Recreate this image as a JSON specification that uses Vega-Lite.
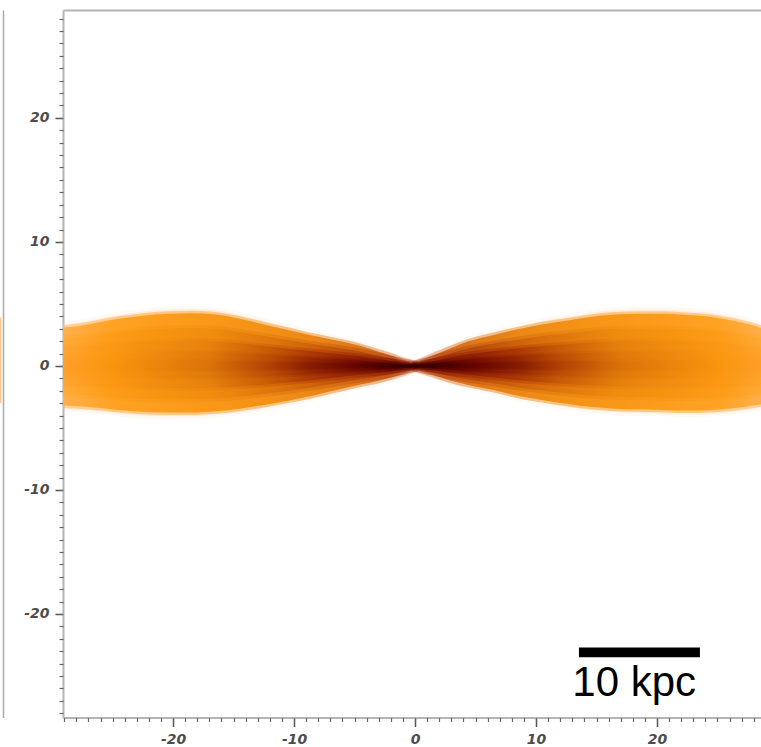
{
  "$schema": "https://vega.github.io/schema/vega-lite/v6.json",
  "background": "white",
  "padding": {"left": 0, "top": 10, "right": 0, "bottom": 0},
  "config": {"view": {"stroke": null}},
  "spacing": 20,
  "datasets": {
    "neighbour": [{"x": 0, "x2": 1.3, "y": -3.0, "y2": 3.9}],
    "scalebar": [{"x": 13.55, "x2": 23.55, "top": -22.7, "bottom": -23.5}],
    "caption": [{"x": 13.0, "top": -26.65, "label": "10 kpc"}],
    "disk": [
      {"band":"LH","x":0,"top":0.27,"bottom":-0.33},{"band":"LH","x":-1,"top":0.55,"bottom":-0.71},{"band":"LH","x":-2,"top":0.92,"bottom":-1.03},{"band":"LH","x":-3,"top":1.24,"bottom":-1.3},{"band":"LH","x":-4.5,"top":1.73,"bottom":-1.62},{"band":"LH","x":-6.5,"top":2.21,"bottom":-2.1},{"band":"LH","x":-8.5,"top":2.65,"bottom":-2.6},{"band":"LH","x":-10.5,"top":3.13,"bottom":-3.02},{"band":"LH","x":-12.5,"top":3.62,"bottom":-3.4},{"band":"LH","x":-14.5,"top":4.1,"bottom":-3.73},{"band":"LH","x":-16.5,"top":4.48,"bottom":-3.94},{"band":"LH","x":-18.5,"top":4.59,"bottom":-4.05},{"band":"LH","x":-20.5,"top":4.54,"bottom":-4.05},{"band":"LH","x":-22.5,"top":4.37,"bottom":-4.0},{"band":"LH","x":-24.5,"top":4.1,"bottom":-3.83},{"band":"LH","x":-26.5,"top":3.73,"bottom":-3.62},{"band":"LH","x":-28,"top":3.46,"bottom":-3.51},{"band":"LH","x":-29.1,"top":3.35,"bottom":-3.46},
      {"band":"L1","x":0,"top":0.25,"bottom":-0.3},{"band":"L1","x":-1,"top":0.5,"bottom":-0.65},{"band":"L1","x":-2,"top":0.85,"bottom":-0.95},{"band":"L1","x":-3,"top":1.15,"bottom":-1.2},{"band":"L1","x":-4.5,"top":1.6,"bottom":-1.5},{"band":"L1","x":-6.5,"top":2.05,"bottom":-1.95},{"band":"L1","x":-8.5,"top":2.45,"bottom":-2.4},{"band":"L1","x":-10.5,"top":2.9,"bottom":-2.8},{"band":"L1","x":-12.5,"top":3.35,"bottom":-3.15},{"band":"L1","x":-14.5,"top":3.8,"bottom":-3.45},{"band":"L1","x":-16.5,"top":4.15,"bottom":-3.65},{"band":"L1","x":-18.5,"top":4.25,"bottom":-3.75},{"band":"L1","x":-20.5,"top":4.2,"bottom":-3.75},{"band":"L1","x":-22.5,"top":4.05,"bottom":-3.7},{"band":"L1","x":-24.5,"top":3.8,"bottom":-3.55},{"band":"L1","x":-26.5,"top":3.45,"bottom":-3.35},{"band":"L1","x":-28,"top":3.2,"bottom":-3.25},{"band":"L1","x":-29.1,"top":3.1,"bottom":-3.2},
      {"band":"L2","x":0,"top":0.18,"bottom":-0.22},{"band":"L2","x":-1,"top":0.36,"bottom":-0.47},{"band":"L2","x":-2,"top":0.61,"bottom":-0.68},{"band":"L2","x":-3,"top":0.83,"bottom":-0.86},{"band":"L2","x":-4.5,"top":1.15,"bottom":-1.08},{"band":"L2","x":-6.5,"top":1.48,"bottom":-1.4},{"band":"L2","x":-8.5,"top":1.76,"bottom":-1.73},{"band":"L2","x":-10.5,"top":2.09,"bottom":-2.02},{"band":"L2","x":-12.5,"top":2.41,"bottom":-2.27},{"band":"L2","x":-14.5,"top":2.74,"bottom":-2.48},{"band":"L2","x":-16.5,"top":2.99,"bottom":-2.63},{"band":"L2","x":-18.5,"top":3.06,"bottom":-2.7},{"band":"L2","x":-20.5,"top":3.02,"bottom":-2.7},{"band":"L2","x":-22.5,"top":2.92,"bottom":-2.66},{"band":"L2","x":-24.5,"top":2.74,"bottom":-2.56},{"band":"L2","x":-26.5,"top":2.48,"bottom":-2.41},{"band":"L2","x":-28,"top":2.3,"bottom":-2.34},{"band":"L2","x":-29.1,"top":2.23,"bottom":-2.3},
      {"band":"L3","x":0,"top":0.12,"bottom":-0.14},{"band":"L3","x":-1,"top":0.24,"bottom":-0.31},{"band":"L3","x":-2,"top":0.41,"bottom":-0.46},{"band":"L3","x":-3,"top":0.55,"bottom":-0.58},{"band":"L3","x":-4.5,"top":0.77,"bottom":-0.72},{"band":"L3","x":-6.5,"top":0.98,"bottom":-0.94},{"band":"L3","x":-8.5,"top":1.18,"bottom":-1.15},{"band":"L3","x":-10.5,"top":1.39,"bottom":-1.34},{"band":"L3","x":-12.5,"top":1.61,"bottom":-1.51},{"band":"L3","x":-14.5,"top":1.82,"bottom":-1.66},{"band":"L3","x":-16.5,"top":1.99,"bottom":-1.75},{"band":"L3","x":-18.5,"top":2.04,"bottom":-1.8},{"band":"L3","x":-20.5,"top":2.02,"bottom":-1.8},{"band":"L3","x":-22.5,"top":1.94,"bottom":-1.78},{"band":"L3","x":-24.5,"top":1.82,"bottom":-1.7},{"band":"L3","x":-26.5,"top":1.66,"bottom":-1.61},{"band":"L3","x":-28,"top":1.54,"bottom":-1.56},{"band":"L3","x":-29.1,"top":1.49,"bottom":-1.54},
      {"band":"L4","x":0,"top":0.07,"bottom":-0.08},{"band":"L4","x":-1,"top":0.14,"bottom":-0.18},{"band":"L4","x":-2,"top":0.23,"bottom":-0.26},{"band":"L4","x":-3,"top":0.31,"bottom":-0.32},{"band":"L4","x":-4.5,"top":0.43,"bottom":-0.41},{"band":"L4","x":-6.5,"top":0.55,"bottom":-0.53},{"band":"L4","x":-8.5,"top":0.66,"bottom":-0.65},{"band":"L4","x":-10.5,"top":0.78,"bottom":-0.76},{"band":"L4","x":-12.5,"top":0.9,"bottom":-0.85},{"band":"L4","x":-14.5,"top":1.03,"bottom":-0.93},{"band":"L4","x":-16.5,"top":1.12,"bottom":-0.99},{"band":"L4","x":-18.5,"top":1.15,"bottom":-1.01},{"band":"L4","x":-20.5,"top":1.13,"bottom":-1.01},{"band":"L4","x":-22.5,"top":1.09,"bottom":-1.0},{"band":"L4","x":-24.5,"top":1.03,"bottom":-0.96},{"band":"L4","x":-26.5,"top":0.93,"bottom":-0.9},{"band":"L4","x":-28,"top":0.86,"bottom":-0.88},{"band":"L4","x":-29.1,"top":0.84,"bottom":-0.86},
      {"band":"L5","x":0,"top":0.03,"bottom":-0.03},{"band":"L5","x":-1,"top":0.05,"bottom":-0.07},{"band":"L5","x":-2,"top":0.09,"bottom":-0.1},{"band":"L5","x":-3,"top":0.12,"bottom":-0.12},{"band":"L5","x":-4.5,"top":0.16,"bottom":-0.15},{"band":"L5","x":-6.5,"top":0.21,"bottom":-0.2},{"band":"L5","x":-8.5,"top":0.25,"bottom":-0.24},{"band":"L5","x":-10.5,"top":0.29,"bottom":-0.28},{"band":"L5","x":-12.5,"top":0.34,"bottom":-0.32},{"band":"L5","x":-14.5,"top":0.38,"bottom":-0.35},{"band":"L5","x":-16.5,"top":0.42,"bottom":-0.37},{"band":"L5","x":-18.5,"top":0.43,"bottom":-0.38},{"band":"L5","x":-20.5,"top":0.42,"bottom":-0.38},{"band":"L5","x":-22.5,"top":0.41,"bottom":-0.37},{"band":"L5","x":-24.5,"top":0.38,"bottom":-0.36},{"band":"L5","x":-26.5,"top":0.35,"bottom":-0.34},{"band":"L5","x":-28,"top":0.32,"bottom":-0.33},{"band":"L5","x":-29.1,"top":0.31,"bottom":-0.32},
      {"band":"RH","x":0,"top":0.27,"bottom":-0.33},{"band":"RH","x":1,"top":0.71,"bottom":-0.65},{"band":"RH","x":2,"top":1.14,"bottom":-0.98},{"band":"RH","x":3,"top":1.57,"bottom":-1.3},{"band":"RH","x":4.5,"top":2.16,"bottom":-1.67},{"band":"RH","x":6.5,"top":2.7,"bottom":-2.1},{"band":"RH","x":8.5,"top":3.19,"bottom":-2.6},{"band":"RH","x":10.5,"top":3.62,"bottom":-2.97},{"band":"RH","x":12.5,"top":3.94,"bottom":-3.29},{"band":"RH","x":14.5,"top":4.27,"bottom":-3.56},{"band":"RH","x":16.5,"top":4.48,"bottom":-3.73},{"band":"RH","x":18.5,"top":4.54,"bottom":-3.78},{"band":"RH","x":20.5,"top":4.54,"bottom":-3.83},{"band":"RH","x":22.5,"top":4.43,"bottom":-3.89},{"band":"RH","x":24.5,"top":4.27,"bottom":-3.83},{"band":"RH","x":26.5,"top":3.89,"bottom":-3.67},{"band":"RH","x":28,"top":3.51,"bottom":-3.46},{"band":"RH","x":29.1,"top":3.13,"bottom":-3.24},
      {"band":"R1","x":0,"top":0.25,"bottom":-0.3},{"band":"R1","x":1,"top":0.65,"bottom":-0.6},{"band":"R1","x":2,"top":1.05,"bottom":-0.9},{"band":"R1","x":3,"top":1.45,"bottom":-1.2},{"band":"R1","x":4.5,"top":2.0,"bottom":-1.55},{"band":"R1","x":6.5,"top":2.5,"bottom":-1.95},{"band":"R1","x":8.5,"top":2.95,"bottom":-2.4},{"band":"R1","x":10.5,"top":3.35,"bottom":-2.75},{"band":"R1","x":12.5,"top":3.65,"bottom":-3.05},{"band":"R1","x":14.5,"top":3.95,"bottom":-3.3},{"band":"R1","x":16.5,"top":4.15,"bottom":-3.45},{"band":"R1","x":18.5,"top":4.2,"bottom":-3.5},{"band":"R1","x":20.5,"top":4.2,"bottom":-3.55},{"band":"R1","x":22.5,"top":4.1,"bottom":-3.6},{"band":"R1","x":24.5,"top":3.95,"bottom":-3.55},{"band":"R1","x":26.5,"top":3.6,"bottom":-3.4},{"band":"R1","x":28,"top":3.25,"bottom":-3.2},{"band":"R1","x":29.1,"top":2.9,"bottom":-3.0},
      {"band":"R2","x":0,"top":0.18,"bottom":-0.22},{"band":"R2","x":1,"top":0.47,"bottom":-0.43},{"band":"R2","x":2,"top":0.76,"bottom":-0.65},{"band":"R2","x":3,"top":1.04,"bottom":-0.86},{"band":"R2","x":4.5,"top":1.44,"bottom":-1.12},{"band":"R2","x":6.5,"top":1.8,"bottom":-1.4},{"band":"R2","x":8.5,"top":2.12,"bottom":-1.73},{"band":"R2","x":10.5,"top":2.41,"bottom":-1.98},{"band":"R2","x":12.5,"top":2.63,"bottom":-2.2},{"band":"R2","x":14.5,"top":2.84,"bottom":-2.38},{"band":"R2","x":16.5,"top":2.99,"bottom":-2.48},{"band":"R2","x":18.5,"top":3.02,"bottom":-2.52},{"band":"R2","x":20.5,"top":3.02,"bottom":-2.56},{"band":"R2","x":22.5,"top":2.95,"bottom":-2.59},{"band":"R2","x":24.5,"top":2.84,"bottom":-2.56},{"band":"R2","x":26.5,"top":2.59,"bottom":-2.45},{"band":"R2","x":28,"top":2.34,"bottom":-2.3},{"band":"R2","x":29.1,"top":2.09,"bottom":-2.16},
      {"band":"R3","x":0,"top":0.12,"bottom":-0.14},{"band":"R3","x":1,"top":0.31,"bottom":-0.29},{"band":"R3","x":2,"top":0.5,"bottom":-0.43},{"band":"R3","x":3,"top":0.7,"bottom":-0.58},{"band":"R3","x":4.5,"top":0.96,"bottom":-0.74},{"band":"R3","x":6.5,"top":1.2,"bottom":-0.94},{"band":"R3","x":8.5,"top":1.42,"bottom":-1.15},{"band":"R3","x":10.5,"top":1.61,"bottom":-1.32},{"band":"R3","x":12.5,"top":1.75,"bottom":-1.46},{"band":"R3","x":14.5,"top":1.9,"bottom":-1.58},{"band":"R3","x":16.5,"top":1.99,"bottom":-1.66},{"band":"R3","x":18.5,"top":2.02,"bottom":-1.68},{"band":"R3","x":20.5,"top":2.02,"bottom":-1.7},{"band":"R3","x":22.5,"top":1.97,"bottom":-1.73},{"band":"R3","x":24.5,"top":1.9,"bottom":-1.7},{"band":"R3","x":26.5,"top":1.73,"bottom":-1.63},{"band":"R3","x":28,"top":1.56,"bottom":-1.54},{"band":"R3","x":29.1,"top":1.39,"bottom":-1.44},
      {"band":"R4","x":0,"top":0.07,"bottom":-0.08},{"band":"R4","x":1,"top":0.18,"bottom":-0.16},{"band":"R4","x":2,"top":0.28,"bottom":-0.24},{"band":"R4","x":3,"top":0.39,"bottom":-0.32},{"band":"R4","x":4.5,"top":0.54,"bottom":-0.42},{"band":"R4","x":6.5,"top":0.68,"bottom":-0.53},{"band":"R4","x":8.5,"top":0.8,"bottom":-0.65},{"band":"R4","x":10.5,"top":0.9,"bottom":-0.74},{"band":"R4","x":12.5,"top":0.99,"bottom":-0.82},{"band":"R4","x":14.5,"top":1.07,"bottom":-0.89},{"band":"R4","x":16.5,"top":1.12,"bottom":-0.93},{"band":"R4","x":18.5,"top":1.13,"bottom":-0.95},{"band":"R4","x":20.5,"top":1.13,"bottom":-0.96},{"band":"R4","x":22.5,"top":1.11,"bottom":-0.97},{"band":"R4","x":24.5,"top":1.07,"bottom":-0.96},{"band":"R4","x":26.5,"top":0.97,"bottom":-0.92},{"band":"R4","x":28,"top":0.88,"bottom":-0.86},{"band":"R4","x":29.1,"top":0.78,"bottom":-0.81},
      {"band":"R5","x":0,"top":0.03,"bottom":-0.03},{"band":"R5","x":1,"top":0.07,"bottom":-0.06},{"band":"R5","x":2,"top":0.11,"bottom":-0.09},{"band":"R5","x":3,"top":0.15,"bottom":-0.12},{"band":"R5","x":4.5,"top":0.2,"bottom":-0.16},{"band":"R5","x":6.5,"top":0.25,"bottom":-0.2},{"band":"R5","x":8.5,"top":0.3,"bottom":-0.24},{"band":"R5","x":10.5,"top":0.34,"bottom":-0.28},{"band":"R5","x":12.5,"top":0.37,"bottom":-0.31},{"band":"R5","x":14.5,"top":0.4,"bottom":-0.33},{"band":"R5","x":16.5,"top":0.42,"bottom":-0.35},{"band":"R5","x":18.5,"top":0.42,"bottom":-0.35},{"band":"R5","x":20.5,"top":0.42,"bottom":-0.36},{"band":"R5","x":22.5,"top":0.41,"bottom":-0.36},{"band":"R5","x":24.5,"top":0.4,"bottom":-0.36},{"band":"R5","x":26.5,"top":0.36,"bottom":-0.34},{"band":"R5","x":28,"top":0.33,"bottom":-0.32},{"band":"R5","x":29.1,"top":0.29,"bottom":-0.3}
    ]
  },
  "hconcat": [
    {
      "width": 3,
      "height": 707.5,
      "data": {"name": "neighbour"},
      "mark": {"type": "rect", "fill": "#f7ae5c", "opacity": 0.7},
      "encoding": {
        "x": {"field": "x", "type": "quantitative", "scale": {"domain": [0, 3], "nice": false, "zero": false}, "axis": null},
        "x2": {"field": "x2"},
        "y": {"field": "y", "type": "quantitative", "scale": {"domain": [-28.35, 28.7], "nice": false, "zero": false},
              "axis": {"orient": "right", "domain": true, "domainColor": "#aaaaaa", "domainWidth": 1.5, "ticks": false, "labels": false, "grid": false, "title": null}},
        "y2": {"field": "y2"}
      }
    },
    {
      "width": 699,
      "height": 707.5,
      "resolve": {"axis": {"x": "independent", "y": "independent"}},
      "layer": [
        {
          "data": {"name": "disk"},
          "encoding": {
            "x": {"field": "x", "type": "quantitative",
                  "scale": {"domain": [-29.1, 28.68], "nice": false, "zero": false},
                  "axis": {"orient": "bottom", "values": [-20, -10, 0, 10, 20], "labelExpr": "'' + datum.value",
                           "domain": true, "domainColor": "#b4b4b4", "domainWidth": 2,
                           "ticks": true, "tickSize": 9, "tickWidth": 1.5, "tickColor": "#555555",
                           "labelFont": "DejaVu Sans", "labelFontSize": 14, "labelFontStyle": "italic", "labelFontWeight": "bold",
                           "labelColor": "#4d4d4d", "labelPadding": 6, "labelFlush": false, "grid": false, "title": null}},
            "y": {"field": "top", "type": "quantitative", "stack": null,
                  "scale": {"domain": [-28.35, 28.7], "nice": false, "zero": false},
                  "axis": {"orient": "left", "values": [-20, -10, 0, 10, 20], "labelExpr": "'' + datum.value",
                           "domain": true, "domainColor": "#b4b4b4", "domainWidth": 2,
                           "ticks": true, "tickSize": 8, "tickWidth": 1.5, "tickColor": "#555555",
                           "labelFont": "DejaVu Sans", "labelFontSize": 14, "labelFontStyle": "italic", "labelFontWeight": "bold",
                           "labelColor": "#4d4d4d", "labelPadding": 6, "labelFlush": false, "grid": false, "title": null}},
            "y2": {"field": "bottom"}
          },
          "layer": [
            {"transform": [{"filter": "datum.band == 'LH'"}],
             "mark": {"type": "area", "orient": "vertical", "interpolate": "monotone", "clip": true, "opacity": 0.35,
                      "strokeWidth": 6, "strokeOpacity": 0.4, "stroke": "#ffd8b0",
                      "fill": {"gradient": "linear", "x1": 1, "y1": 0, "x2": 0, "y2": 0,
                               "stops": [{"offset": 0, "color": "#fff4ec"}, {"offset": 0.07, "color": "#ffe8d4"}, {"offset": 0.17, "color": "#ffdcb8"}, {"offset": 0.41, "color": "#ffd09a"}, {"offset": 0.86, "color": "#ffc888"}, {"offset": 1, "color": "#ffd09c"}]}}},
            {"transform": [{"filter": "datum.band == 'RH'"}],
             "mark": {"type": "area", "orient": "vertical", "interpolate": "monotone", "clip": true, "opacity": 0.35,
                      "strokeWidth": 6, "strokeOpacity": 0.4, "stroke": "#ffd8b0",
                      "fill": {"gradient": "linear", "x1": 0, "y1": 0, "x2": 1, "y2": 0,
                               "stops": [{"offset": 0, "color": "#fff4ec"}, {"offset": 0.07, "color": "#ffe8d4"}, {"offset": 0.17, "color": "#ffdcb8"}, {"offset": 0.41, "color": "#ffd09a"}, {"offset": 0.86, "color": "#ffc888"}, {"offset": 1, "color": "#ffd09c"}]}}},
            {"transform": [{"filter": "datum.band == 'L1'"}],
             "mark": {"type": "area", "orient": "vertical", "interpolate": "monotone", "clip": true, "strokeWidth": 5, "strokeOpacity": 0.45,
                      "stroke": {"gradient": "linear", "x1": 1, "y1": 0, "x2": 0, "y2": 0,
                               "stops": [{"offset": 0, "color": "#e0a080"}, {"offset": 0.07, "color": "#d26c26"}, {"offset": 0.17, "color": "#de7818"}, {"offset": 0.3, "color": "#ec8816"}, {"offset": 0.41, "color": "#f29016"}, {"offset": 0.58, "color": "#f99818"}, {"offset": 0.86, "color": "#ffa224"}, {"offset": 1, "color": "#ffb04c"}]},
                      "fill": {"gradient": "linear", "x1": 1, "y1": 0, "x2": 0, "y2": 0,
                               "stops": [{"offset": 0, "color": "#e0a080"}, {"offset": 0.035, "color": "#d87a44"}, {"offset": 0.07, "color": "#d26c26"}, {"offset": 0.17, "color": "#de7818"}, {"offset": 0.3, "color": "#ec8816"}, {"offset": 0.41, "color": "#f29016"}, {"offset": 0.58, "color": "#f99818"}, {"offset": 0.86, "color": "#ffa224"}, {"offset": 1, "color": "#ffb04c"}]}}},
            {"transform": [{"filter": "datum.band == 'R1'"}],
             "mark": {"type": "area", "orient": "vertical", "interpolate": "monotone", "clip": true, "strokeWidth": 5, "strokeOpacity": 0.45,
                      "stroke": {"gradient": "linear", "x1": 0, "y1": 0, "x2": 1, "y2": 0,
                               "stops": [{"offset": 0, "color": "#e0a080"}, {"offset": 0.07, "color": "#d26c26"}, {"offset": 0.17, "color": "#de7818"}, {"offset": 0.3, "color": "#ec8816"}, {"offset": 0.41, "color": "#f29016"}, {"offset": 0.58, "color": "#f99818"}, {"offset": 0.86, "color": "#ffa224"}, {"offset": 1, "color": "#ffb04c"}]},
                      "fill": {"gradient": "linear", "x1": 0, "y1": 0, "x2": 1, "y2": 0,
                               "stops": [{"offset": 0, "color": "#e0a080"}, {"offset": 0.035, "color": "#d87a44"}, {"offset": 0.07, "color": "#d26c26"}, {"offset": 0.17, "color": "#de7818"}, {"offset": 0.3, "color": "#ec8816"}, {"offset": 0.41, "color": "#f29016"}, {"offset": 0.58, "color": "#f99818"}, {"offset": 0.86, "color": "#ffa224"}, {"offset": 1, "color": "#ffb04c"}]}}},
            {"transform": [{"filter": "datum.band == 'L2'"}],
             "mark": {"type": "area", "orient": "vertical", "interpolate": "monotone", "clip": true, "strokeWidth": 6, "strokeOpacity": 0.45,
                      "stroke": {"gradient": "linear", "x1": 1, "y1": 0, "x2": 0, "y2": 0,
                               "stops": [{"offset": 0, "color": "#a03818"}, {"offset": 0.07, "color": "#ac3c10"}, {"offset": 0.17, "color": "#ba4a0a"}, {"offset": 0.3, "color": "#d0640a"}, {"offset": 0.41, "color": "#de760c"}, {"offset": 0.58, "color": "#f08c0e"}, {"offset": 0.86, "color": "#fd9c16"}, {"offset": 1, "color": "#ffaa38"}]},
                      "fill": {"gradient": "linear", "x1": 1, "y1": 0, "x2": 0, "y2": 0,
                               "stops": [{"offset": 0, "color": "#a03818"}, {"offset": 0.035, "color": "#a63a14"}, {"offset": 0.07, "color": "#ac3c10"}, {"offset": 0.17, "color": "#ba4a0a"}, {"offset": 0.3, "color": "#d0640a"}, {"offset": 0.41, "color": "#de760c"}, {"offset": 0.58, "color": "#f08c0e"}, {"offset": 0.86, "color": "#fd9c16"}, {"offset": 1, "color": "#ffaa38"}]}}},
            {"transform": [{"filter": "datum.band == 'R2'"}],
             "mark": {"type": "area", "orient": "vertical", "interpolate": "monotone", "clip": true, "strokeWidth": 6, "strokeOpacity": 0.45,
                      "stroke": {"gradient": "linear", "x1": 0, "y1": 0, "x2": 1, "y2": 0,
                               "stops": [{"offset": 0, "color": "#a03818"}, {"offset": 0.07, "color": "#ac3c10"}, {"offset": 0.17, "color": "#ba4a0a"}, {"offset": 0.3, "color": "#d0640a"}, {"offset": 0.41, "color": "#de760c"}, {"offset": 0.58, "color": "#f08c0e"}, {"offset": 0.86, "color": "#fd9c16"}, {"offset": 1, "color": "#ffaa38"}]},
                      "fill": {"gradient": "linear", "x1": 0, "y1": 0, "x2": 1, "y2": 0,
                               "stops": [{"offset": 0, "color": "#a03818"}, {"offset": 0.035, "color": "#a63a14"}, {"offset": 0.07, "color": "#ac3c10"}, {"offset": 0.17, "color": "#ba4a0a"}, {"offset": 0.3, "color": "#d0640a"}, {"offset": 0.41, "color": "#de760c"}, {"offset": 0.58, "color": "#f08c0e"}, {"offset": 0.86, "color": "#fd9c16"}, {"offset": 1, "color": "#ffaa38"}]}}},
            {"transform": [{"filter": "datum.band == 'L3'"}],
             "mark": {"type": "area", "orient": "vertical", "interpolate": "monotone", "clip": true, "strokeWidth": 5, "strokeOpacity": 0.45,
                      "stroke": {"gradient": "linear", "x1": 1, "y1": 0, "x2": 0, "y2": 0,
                               "stops": [{"offset": 0, "color": "#701000"}, {"offset": 0.07, "color": "#801800"}, {"offset": 0.17, "color": "#922204"}, {"offset": 0.3, "color": "#ac3a04"}, {"offset": 0.41, "color": "#c65a06"}, {"offset": 0.58, "color": "#e6800c"}, {"offset": 0.86, "color": "#fb9812"}, {"offset": 1, "color": "#ffa430"}]},
                      "fill": {"gradient": "linear", "x1": 1, "y1": 0, "x2": 0, "y2": 0,
                               "stops": [{"offset": 0, "color": "#701000"}, {"offset": 0.035, "color": "#781400"}, {"offset": 0.07, "color": "#801800"}, {"offset": 0.17, "color": "#922204"}, {"offset": 0.3, "color": "#ac3a04"}, {"offset": 0.41, "color": "#c65a06"}, {"offset": 0.58, "color": "#e6800c"}, {"offset": 0.86, "color": "#fb9812"}, {"offset": 1, "color": "#ffa430"}]}}},
            {"transform": [{"filter": "datum.band == 'R3'"}],
             "mark": {"type": "area", "orient": "vertical", "interpolate": "monotone", "clip": true, "strokeWidth": 5, "strokeOpacity": 0.45,
                      "stroke": {"gradient": "linear", "x1": 0, "y1": 0, "x2": 1, "y2": 0,
                               "stops": [{"offset": 0, "color": "#701000"}, {"offset": 0.07, "color": "#801800"}, {"offset": 0.17, "color": "#922204"}, {"offset": 0.3, "color": "#ac3a04"}, {"offset": 0.41, "color": "#c65a06"}, {"offset": 0.58, "color": "#e6800c"}, {"offset": 0.86, "color": "#fb9812"}, {"offset": 1, "color": "#ffa430"}]},
                      "fill": {"gradient": "linear", "x1": 0, "y1": 0, "x2": 1, "y2": 0,
                               "stops": [{"offset": 0, "color": "#701000"}, {"offset": 0.035, "color": "#781400"}, {"offset": 0.07, "color": "#801800"}, {"offset": 0.17, "color": "#922204"}, {"offset": 0.3, "color": "#ac3a04"}, {"offset": 0.41, "color": "#c65a06"}, {"offset": 0.58, "color": "#e6800c"}, {"offset": 0.86, "color": "#fb9812"}, {"offset": 1, "color": "#ffa430"}]}}},
            {"transform": [{"filter": "datum.band == 'L4'"}],
             "mark": {"type": "area", "orient": "vertical", "interpolate": "monotone", "clip": true, "strokeWidth": 4, "strokeOpacity": 0.45,
                      "stroke": {"gradient": "linear", "x1": 1, "y1": 0, "x2": 0, "y2": 0,
                               "stops": [{"offset": 0, "color": "#480000"}, {"offset": 0.07, "color": "#580000"}, {"offset": 0.17, "color": "#760c00"}, {"offset": 0.3, "color": "#982802"}, {"offset": 0.41, "color": "#ba4c04"}, {"offset": 0.58, "color": "#de780a"}, {"offset": 0.86, "color": "#fa9610"}, {"offset": 1, "color": "#ffa22a"}]},
                      "fill": {"gradient": "linear", "x1": 1, "y1": 0, "x2": 0, "y2": 0,
                               "stops": [{"offset": 0, "color": "#480000"}, {"offset": 0.035, "color": "#500000"}, {"offset": 0.07, "color": "#580000"}, {"offset": 0.17, "color": "#760c00"}, {"offset": 0.3, "color": "#982802"}, {"offset": 0.41, "color": "#ba4c04"}, {"offset": 0.58, "color": "#de780a"}, {"offset": 0.86, "color": "#fa9610"}, {"offset": 1, "color": "#ffa22a"}]}}},
            {"transform": [{"filter": "datum.band == 'R4'"}],
             "mark": {"type": "area", "orient": "vertical", "interpolate": "monotone", "clip": true, "strokeWidth": 4, "strokeOpacity": 0.45,
                      "stroke": {"gradient": "linear", "x1": 0, "y1": 0, "x2": 1, "y2": 0,
                               "stops": [{"offset": 0, "color": "#480000"}, {"offset": 0.07, "color": "#580000"}, {"offset": 0.17, "color": "#760c00"}, {"offset": 0.3, "color": "#982802"}, {"offset": 0.41, "color": "#ba4c04"}, {"offset": 0.58, "color": "#de780a"}, {"offset": 0.86, "color": "#fa9610"}, {"offset": 1, "color": "#ffa22a"}]},
                      "fill": {"gradient": "linear", "x1": 0, "y1": 0, "x2": 1, "y2": 0,
                               "stops": [{"offset": 0, "color": "#480000"}, {"offset": 0.035, "color": "#500000"}, {"offset": 0.07, "color": "#580000"}, {"offset": 0.17, "color": "#760c00"}, {"offset": 0.3, "color": "#982802"}, {"offset": 0.41, "color": "#ba4c04"}, {"offset": 0.58, "color": "#de780a"}, {"offset": 0.86, "color": "#fa9610"}, {"offset": 1, "color": "#ffa22a"}]}}},
            {"transform": [{"filter": "datum.band == 'L5'"}],
             "mark": {"type": "area", "orient": "vertical", "interpolate": "monotone", "clip": true, "strokeWidth": 3, "strokeOpacity": 0.45,
                      "stroke": {"gradient": "linear", "x1": 1, "y1": 0, "x2": 0, "y2": 0,
                               "stops": [{"offset": 0, "color": "#300000"}, {"offset": 0.07, "color": "#400000"}, {"offset": 0.17, "color": "#640400"}, {"offset": 0.3, "color": "#881c00"}, {"offset": 0.41, "color": "#b04004"}, {"offset": 0.58, "color": "#da7208"}, {"offset": 0.86, "color": "#f8940e"}, {"offset": 1, "color": "#ffa028"}]},
                      "fill": {"gradient": "linear", "x1": 1, "y1": 0, "x2": 0, "y2": 0,
                               "stops": [{"offset": 0, "color": "#300000"}, {"offset": 0.035, "color": "#380000"}, {"offset": 0.07, "color": "#400000"}, {"offset": 0.17, "color": "#640400"}, {"offset": 0.3, "color": "#881c00"}, {"offset": 0.41, "color": "#b04004"}, {"offset": 0.58, "color": "#da7208"}, {"offset": 0.86, "color": "#f8940e"}, {"offset": 1, "color": "#ffa028"}]}}},
            {"transform": [{"filter": "datum.band == 'R5'"}],
             "mark": {"type": "area", "orient": "vertical", "interpolate": "monotone", "clip": true, "strokeWidth": 3, "strokeOpacity": 0.45,
                      "stroke": {"gradient": "linear", "x1": 0, "y1": 0, "x2": 1, "y2": 0,
                               "stops": [{"offset": 0, "color": "#300000"}, {"offset": 0.07, "color": "#400000"}, {"offset": 0.17, "color": "#640400"}, {"offset": 0.3, "color": "#881c00"}, {"offset": 0.41, "color": "#b04004"}, {"offset": 0.58, "color": "#da7208"}, {"offset": 0.86, "color": "#f8940e"}, {"offset": 1, "color": "#ffa028"}]},
                      "fill": {"gradient": "linear", "x1": 0, "y1": 0, "x2": 1, "y2": 0,
                               "stops": [{"offset": 0, "color": "#300000"}, {"offset": 0.035, "color": "#380000"}, {"offset": 0.07, "color": "#400000"}, {"offset": 0.17, "color": "#640400"}, {"offset": 0.3, "color": "#881c00"}, {"offset": 0.41, "color": "#b04004"}, {"offset": 0.58, "color": "#da7208"}, {"offset": 0.86, "color": "#f8940e"}, {"offset": 1, "color": "#ffa028"}]}}}
          ]
        },
        {
          "data": {"name": "scalebar"},
          "mark": {"type": "rect", "fill": "black"},
          "encoding": {
            "x": {"field": "x", "type": "quantitative",
                  "scale": {"domain": [-29.1, 28.68], "nice": false, "zero": false},
                  "axis": {"orient": "bottom", "values": [-29,-28,-27,-26,-25,-24,-23,-22,-21,-20,-19,-18,-17,-16,-15,-14,-13,-12,-11,-10,-9,-8,-7,-6,-5,-4,-3,-2,-1,0,1,2,3,4,5,6,7,8,9,10,11,12,13,14,15,16,17,18,19,20,21,22,23,24,25,26,27,28],
                           "domain": false, "ticks": true, "tickSize": 4, "tickWidth": 1.2, "tickColor": "#666666", "labels": false, "grid": false, "title": null}},
            "x2": {"field": "x2"},
            "y": {"field": "top", "type": "quantitative",
                  "scale": {"domain": [-28.35, 28.7], "nice": false, "zero": false},
                  "axis": {"orient": "left", "values": [-28,-27,-26,-25,-24,-23,-22,-21,-20,-19,-18,-17,-16,-15,-14,-13,-12,-11,-10,-9,-8,-7,-6,-5,-4,-3,-2,-1,0,1,2,3,4,5,6,7,8,9,10,11,12,13,14,15,16,17,18,19,20,21,22,23,24,25,26,27,28],
                           "domain": false, "ticks": true, "tickSize": 4, "tickWidth": 1.2, "tickColor": "#666666", "labels": false, "grid": false, "title": null}},
            "y2": {"field": "bottom"}
          }
        },
        {
          "data": {"name": "caption"},
          "mark": {"type": "text", "align": "left", "baseline": "alphabetic", "font": "Liberation Sans", "fontSize": 42, "color": "black"},
          "encoding": {
            "x": {"field": "x", "type": "quantitative",
                  "scale": {"domain": [-29.1, 28.68], "nice": false, "zero": false},
                  "axis": {"orient": "top", "domain": true, "domainColor": "#b4b4b4", "domainWidth": 2, "ticks": false, "labels": false, "grid": false, "title": null}},
            "y": {"field": "top", "type": "quantitative",
                  "scale": {"domain": [-28.35, 28.7], "nice": false, "zero": false}, "axis": null},
            "text": {"field": "label"}
          }
        }
      ]
    }
  ]
}
